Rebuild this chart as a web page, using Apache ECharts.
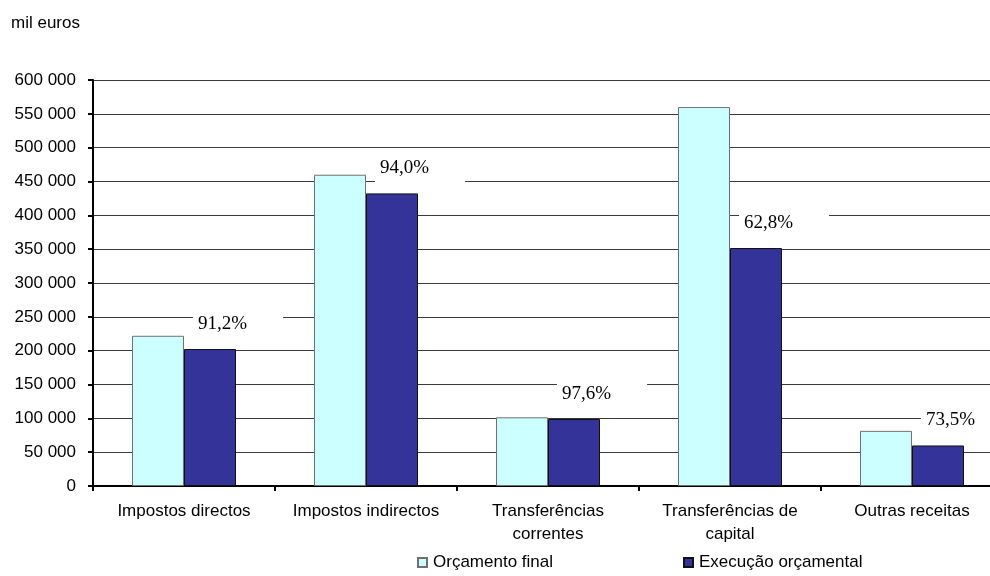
<!DOCTYPE html>
<html>
<head>
<meta charset="utf-8">
<script src="https://cdn.jsdelivr.net/npm/echarts@6/dist/echarts.min.js"></script>
<style>
  html, body { margin: 0; padding: 0; background: #ffffff; overflow: hidden; }
  #wrap { width: 990px; height: 576px; overflow: hidden; }
  #chart { width: 1010px; height: 576px; }
</style>
</head>
<body>
<div id="wrap"><div id="chart"></div></div>
<script>
// Receitas: orçamento final vs execução orçamental (mil euros)
const categories = [
  'Impostos directos',
  'Impostos indirectos',
  'Transferências\ncorrentes',
  'Transferências de\ncapital',
  'Outras receitas'
];
const orcamentoFinal = [222000, 460000, 101500, 560000, 81500];
const execucaoOrcamental = [202460, 432400, 99060, 351680, 59900];
const yTicks = { min: 0, max: 600000, interval: 50000 };
const seriesNames = ['Orçamento final', 'Execução orçamental'];

// taxa de execução, formatada com vírgula decimal
const taxaExecucao = execucaoOrcamental.map((v, i) =>
  (v / orcamentoFinal[i] * 100).toFixed(1).replace('.', ',') + '%');

const fmtMilhares = v => String(v).replace(/\B(?=(\d{3})+(?!\d))/g, ' ');

const chart = echarts.init(document.getElementById('chart'), null, { renderer: 'canvas' });
const sans = '"Liberation Sans", Arial, sans-serif';

chart.setOption({
  backgroundColor: '#ffffff',
  animation: false,
  title: {
    text: 'mil euros',
    left: 11,
    top: 15,
    padding: 0,
    textStyle: { fontFamily: sans, fontSize: 17, fontWeight: 'normal', color: '#000' }
  },
  legend: {
    data: seriesNames,
    left: 417,
    top: 554,
    padding: 0,
    itemWidth: 9,
    itemHeight: 9,
    itemGap: 130,
    icon: 'rect',
    textStyle: { fontFamily: sans, fontSize: 17, color: '#000', padding: [0, 0, 0, 1] }
  },
  // the plot area runs a little past the right edge of the visible page
  grid: { left: 93, top: 80, width: 910, height: 406, containLabel: false },
  xAxis: {
    type: 'category',
    data: categories,
    axisLine: { lineStyle: { color: '#000', width: 2 } },
    axisTick: { show: true, length: 5, lineStyle: { color: '#000', width: 2 } },
    axisLabel: {
      interval: 0,
      margin: 14,
      fontFamily: sans,
      fontSize: 17,
      lineHeight: 23,
      color: '#000'
    }
  },
  yAxis: {
    type: 'value',
    min: yTicks.min,
    max: yTicks.max,
    interval: yTicks.interval,
    axisLine: { show: true, lineStyle: { color: '#000', width: 2 } },
    axisTick: { show: true, length: 5, lineStyle: { color: '#000', width: 2 } },
    axisLabel: {
      margin: 17,
      fontFamily: sans,
      fontSize: 17,
      color: '#000',
      formatter: v => fmtMilhares(v)
    },
    splitLine: { show: true, lineStyle: { color: '#3a3a3a', width: 1 } }
  },
  series: [
    {
      name: seriesNames[0],
      type: 'bar',
      data: orcamentoFinal,
      barWidth: 52,
      barGap: '0%',
      itemStyle: { color: '#CCFFFF', borderColor: '#6f6f6f', borderWidth: 1 }
    },
    {
      name: seriesNames[1],
      type: 'bar',
      data: execucaoOrcamental,
      barWidth: 52,
      barGap: '0%',
      itemStyle: { color: '#333399', borderColor: '#111', borderWidth: 1 },
      label: {
        show: true,
        position: 'top',
        distance: 6,
        align: 'left',
        offset: [-17, 0],
        formatter: p => taxaExecucao[p.dataIndex],
        fontFamily: '"Liberation Serif", "Times New Roman", serif',
        fontSize: 19,
        lineHeight: 20,
        color: '#000',
        backgroundColor: '#ffffff',
        padding: [8, 36, 9, 5]
      }
    }
  ]
});
</script>
</body>
</html>
